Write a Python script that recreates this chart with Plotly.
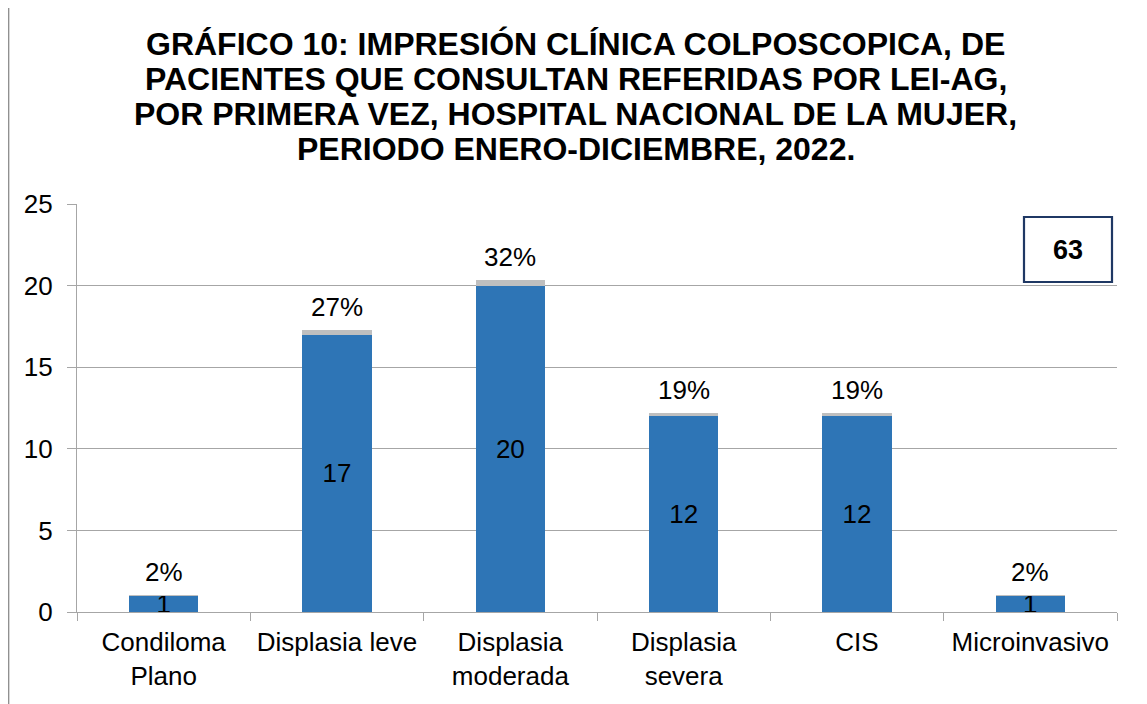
import plotly.graph_objects as go

categories = ["Condiloma<br>Plano", "Displasia leve", "Displasia<br>moderada", "Displasia<br>severa", "CIS", "Microinvasivo"]
counts = [1, 17, 20, 12, 12, 1]
pct = [0.02, 0.27, 0.32, 0.19, 0.19, 0.02]
pct_labels = ["2%", "27%", "32%", "19%", "19%", "2%"]
total_label = "63"
title_lines = [
    "GRÁFICO 10: IMPRESIÓN CLÍNICA COLPOSCOPICA, DE",
    "PACIENTES QUE CONSULTAN REFERIDAS POR LEI-AG,",
    "POR PRIMERA VEZ, HOSPITAL NACIONAL DE LA MUJER,",
    "PERIODO ENERO-DICIEMBRE, 2022.",
]

OFF = 8  # page body margin
W, H = 1147 - OFF, 704 - OFF
L, R, T, B = 77 - OFF, 1147 - 1117, 204 - OFF, 704 - 612
pw, ph = W - L - R, H - T - B

def px_x(sx):
    return (sx - OFF - L) / pw

def px_y(sy):
    return (H - B - (sy - OFF)) / ph

font = "Liberation Sans, Arial, sans-serif"
FS = 26

fig = go.Figure()
fig.add_trace(go.Bar(
    x=categories, y=counts, marker=dict(color="#2E75B6", line=dict(width=0)),
    text=[str(c) for c in counts], textposition="inside", insidetextanchor="middle",
    textangle=0, textfont=dict(family=font, size=FS, color="black"), constraintext="none",
    cliponaxis=False, showlegend=False, hoverinfo="skip",
))
fig.add_trace(go.Bar(
    x=categories, y=pct, marker=dict(color="#BFBFBF", line=dict(width=0)),
    showlegend=False, hoverinfo="skip",
))
for cat, c, p, lab in zip(categories, counts, pct, pct_labels):
    fig.add_annotation(x=cat, y=c + p, xref="x", yref="y", text=lab, showarrow=False,
                       xanchor="center", yanchor="bottom", yshift=6,
                       font=dict(family=font, size=FS, color="black"))

fig.update_layout(
    width=W, height=H, barmode="stack", bargap=0.6,
    margin=dict(l=L, r=R, t=T, b=B, autoexpand=False),
    paper_bgcolor="white", plot_bgcolor="white",
    xaxis=dict(showline=True, linecolor="#A6A6A6", linewidth=1.3, ticks="outside",
               tickson="boundaries", ticklen=8, tickcolor="#A6A6A6", ticklabelstandoff=7,
               tickfont=dict(family=font, size=FS, color="black"), showgrid=False),
    yaxis=dict(range=[0, 25], tickvals=[0, 5, 10, 15, 20, 25], showline=True,
               linecolor="#A6A6A6", linewidth=1.3, ticks="outside", ticklen=9,
               tickcolor="#A6A6A6", showgrid=True, gridcolor="#A6A6A6", gridwidth=1.3,
               ticklabelstandoff=9,
               tickfont=dict(family=font, size=FS, color="black"), zeroline=False),
)

for i, line in enumerate(title_lines):
    fig.add_annotation(xref="paper", yref="paper", x=px_x(575.5), y=px_y(44 + 35 * i),
                       xanchor="center", yanchor="middle", text="<b>" + line + "</b>",
                       showarrow=False, font=dict(family=font, size=32, color="black"))

fig.add_shape(type="rect", xref="paper", yref="paper",
              x0=px_x(8.7), x1=px_x(1145.5), y0=px_y(712), y1=px_y(-5),
              line=dict(color="#8C8C8C", width=1.3), layer="below")
fig.add_shape(type="rect", xref="paper", yref="paper",
              x0=px_x(1024), x1=px_x(1112), y0=px_y(282), y1=px_y(217),
              line=dict(color="#1F3864", width=2.2), fillcolor="white")
fig.add_annotation(xref="paper", yref="paper", x=px_x(1068), y=px_y(249.5),
                   xanchor="center", yanchor="middle",
                   text="<b>" + total_label + "</b>", showarrow=False,
                   font=dict(family=font, size=27, color="black"))

fig.write_html("out.html")
